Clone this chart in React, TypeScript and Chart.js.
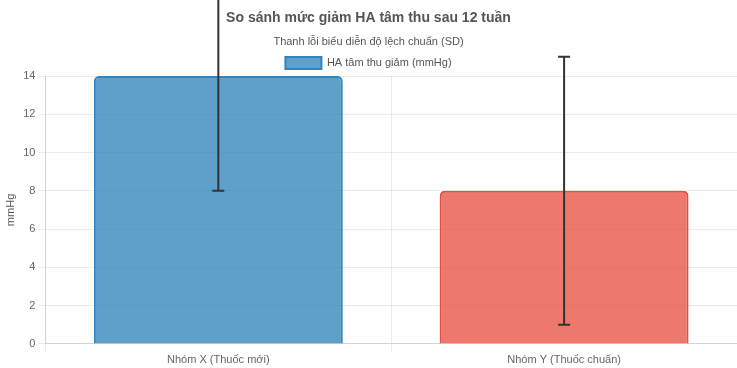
import React, { useEffect, useRef } from "react";
import { Chart, registerables } from "chart.js";

Chart.register(...registerables);

const categories = ["Nhóm X (Thuốc mới)", "Nhóm Y (Thuốc chuẩn)"];
const meanReduction = [14, 8];
const sdValues = [6, 7];
const seriesLabel = "HA tâm thu giảm (mmHg)";
const titleText = "So sánh mức giảm HA tâm thu sau 12 tuần";
const subtitleText = "Thanh lỗi biểu diễn độ lệch chuẩn (SD)";
const yTitle = "mmHg";

const FONT = "'Liberation Sans', Arial, Helvetica, sans-serif";

const errorBarPlugin = {
  id: "errorBars",
  afterDatasetsDraw(chart: any) {
    const { ctx } = chart;
    const meta = chart.getDatasetMeta(0);
    const yScale = chart.scales.y;
    ctx.save();
    ctx.strokeStyle = "#333333";
    ctx.lineWidth = 2;
    meta.data.forEach((bar: any, i: number) => {
      const m = meanReduction[i];
      const sd = sdValues[i];
      const x = bar.x;
      const yTop = yScale.getPixelForValue(m + sd);
      const yBot = yScale.getPixelForValue(m - sd);
      const cap = 6;
      ctx.beginPath();
      ctx.moveTo(x, yTop);
      ctx.lineTo(x, yBot);
      ctx.moveTo(x - cap, yTop);
      ctx.lineTo(x + cap, yTop);
      ctx.moveTo(x - cap, yBot);
      ctx.lineTo(x + cap, yBot);
      ctx.stroke();
    });
    ctx.restore();
  },
};

export default function App() {
  const ref = useRef<HTMLCanvasElement>(null);
  useEffect(() => {
    if (!ref.current) return;
    const chart = new Chart(ref.current, {
      type: "bar",
      data: {
        labels: categories,
        datasets: [
          {
            label: seriesLabel,
            data: meanReduction,
            backgroundColor: ["rgba(41,128,185,0.75)", "rgba(231,76,60,0.75)"],
            borderColor: ["#2e86c1", "#e74c3c"],
            borderWidth: 2,
            borderRadius: 5,
            borderSkipped: "bottom",
          },
        ],
      },
      options: {
        responsive: true,
        maintainAspectRatio: false,
        animation: false,
        layout: { padding: 0 },
        plugins: {
          title: {
            display: true,
            text: titleText,
            color: "#555",
            font: { family: FONT, size: 14, weight: "bold" },
            padding: { top: 10, bottom: 9 },
          },
          subtitle: {
            display: true,
            text: subtitleText,
            color: "#555",
            font: { family: FONT, size: 11 },
            padding: { top: 0, bottom: 4 },
          },
          legend: {
            display: true,
            maxHeight: 23,
            labels: {
              color: "#555",
              font: { family: FONT, size: 11 },
              boxWidth: 36,
              boxHeight: 12,
              padding: 4,
              generateLabels: () => [
                {
                  text: seriesLabel,
                  fillStyle: "rgba(41,128,185,0.75)",
                  strokeStyle: "#2e86c1",
                  lineWidth: 2,
                  hidden: false,
                  datasetIndex: 0,
                  fontColor: "#555",
                },
              ],
            },
          },
          tooltip: { enabled: false },
        },
        scales: {
          x: {
            grid: { color: "rgba(0,0,0,0.08)", tickLength: 8 },
            ticks: { color: "#666", font: { family: FONT, size: 11, lineHeight: 1.1 }, padding: 2 },
          },
          y: {
            beginAtZero: true,
            grid: { color: "rgba(0,0,0,0.08)", tickLength: 7 },
            ticks: { color: "#666", font: { family: FONT, size: 11 }, stepSize: 2, padding: 3 },
            title: {
              display: true,
              text: yTitle,
              color: "#555",
              font: { family: FONT, size: 11 },
              padding: { top: 4, bottom: 3 },
            },
          },
        },
      },
      plugins: [errorBarPlugin],
    });
    return () => chart.destroy();
  }, []);
  return (
    <div style={{ position: "absolute", left: 0, top: 0, width: 737, height: 368 }}>
      <canvas ref={ref} />
    </div>
  );
}
